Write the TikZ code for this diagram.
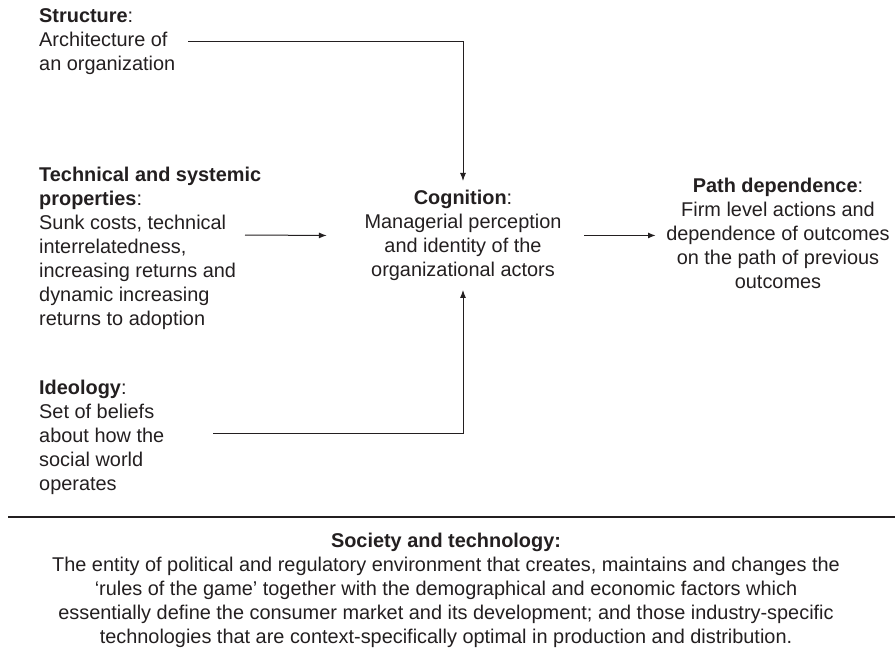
\documentclass[tikz,border=0pt]{standalone}
\usepackage{fontspec}
\setmainfont{Liberation Sans}
\usetikzlibrary{arrows.meta,positioning}
\definecolor{ink}{RGB}{35,31,32}
\tikzstyle{txt} = [inner sep=0pt, text=ink, font=\fontsize{19.9}{24}\selectfont]
\tikzstyle{lbox} = [txt, align=left, anchor=north west]
\tikzstyle{cbox} = [txt, align=center, anchor=north]
\tikzstyle{line} = [draw=ink, line width=1pt]
\tikzstyle{arr} = [line, -{Latex[length=8pt,width=6pt]}]
\tikzstyle{bigarr} = [arr, line width=1.8pt]

\begin{document}
\begin{tikzpicture}[x=1pt, y=-1pt]
	\useasboundingbox (0,0) rectangle (895,650);
	% the three sources on the left
	\node [lbox] (struct) at (39, 8) {\textbf{Structure}:\\Architecture of\\an organization};
	\node [lbox] (tech) at (39, 167) {\textbf{Technical and systemic}\\\textbf{properties}:\\Sunk costs, technical\\interrelatedness,\\increasing returns and\\dynamic increasing\\returns to adoption};
	\node [lbox] (ideo) at (39, 380) {\textbf{Ideology}:\\Set of beliefs\\about how the\\social world\\operates};
	
	\node [cbox, inner xsep=37.5pt, inner ysep=9pt] (cog) at (463, 181) {\textbf{Cognition}:\\Managerial perception\\and identity of the\\organizational actors};
	\node [cbox, inner xsep=10pt] (path) at (778, 178) {\textbf{Path dependence}:\\Firm level actions and\\dependence of outcomes\\on the path of previous\\outcomes};
	
	\coordinate (structout) at (188, 42);
	\coordinate (techout) at (245, 235);
	\coordinate (ideoout) at (213, 433);
	
	\path [arr] (structout) -| (cog.north);
	\path [arr] (techout) -- (cog.west);
	\path [arr] (ideoout) -| (cog.south);
	\path [bigarr] ([xshift=-15pt]cog.east) -- (cog.east -| path.west);
	
	% society and technology underneath
	\coordinate (rulel) at (8, 517);
	\coordinate (ruler) at (895, 517);
	\path [line, line width=1.5pt] (rulel) -- (ruler);
	\node [cbox] (soc) at (446, 533) {\textbf{Society and technology:}\\The entity of political and regulatory environment that creates, maintains and changes the\\`rules of the game' together with the demographical and economic factors which\\essentially define the consumer market and its development; and those industry-specific\\technologies that are context-specifically optimal in production and distribution.};
\end{tikzpicture}
\end{document}
